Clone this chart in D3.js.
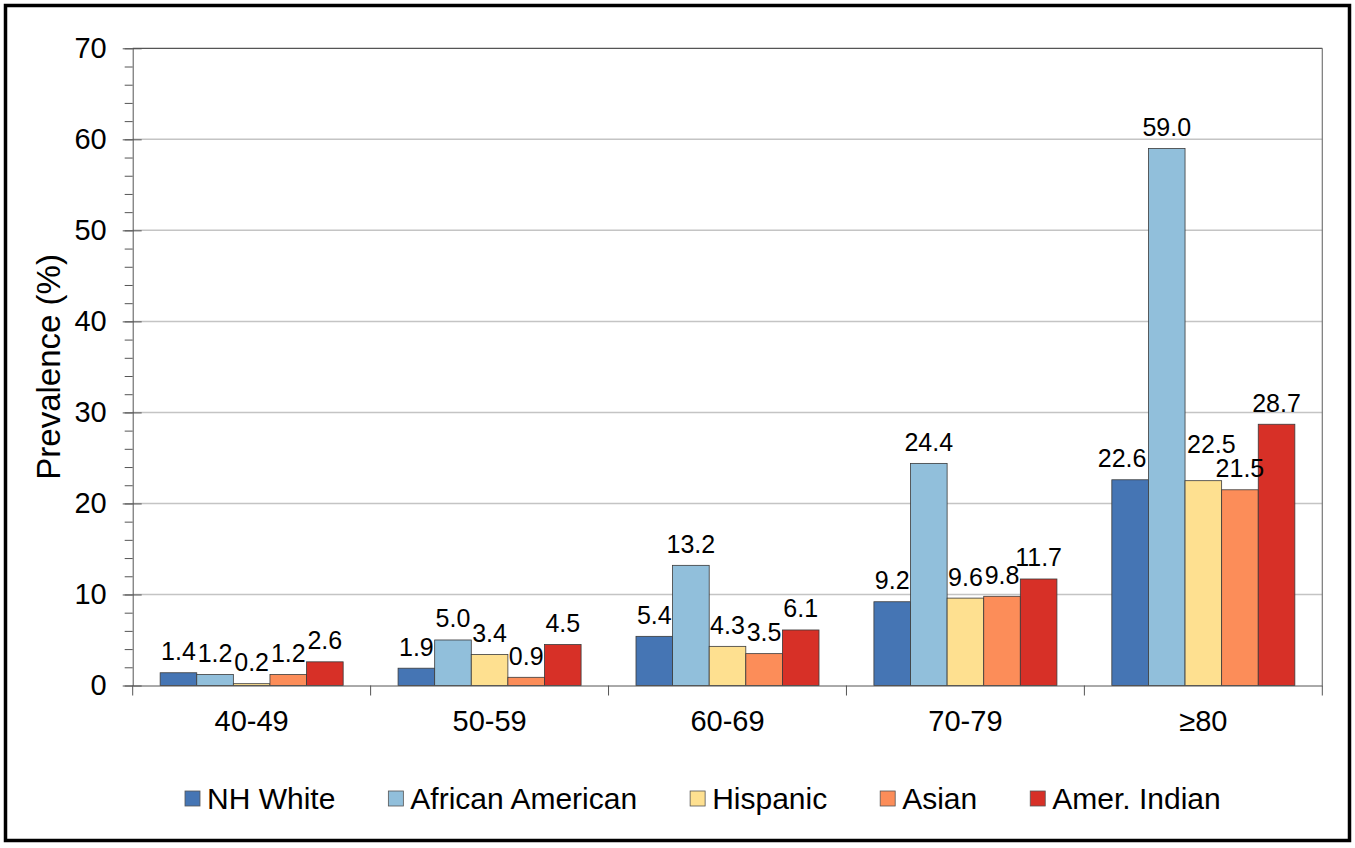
<!DOCTYPE html>
<html>
<head>
<meta charset="utf-8">
<script src="https://cdn.jsdelivr.net/npm/d3@7"></script>
<style>
  body { margin: 0; background: #fff; }
  text { font-family: "Liberation Sans", Arial, sans-serif; fill: #000; }
</style>
</head>
<body>
<svg id="chart" width="1355" height="848"></svg>
<script>
const ageGroups = ["40-49", "50-59", "60-69", "70-79", "≥80"];
const groups = ["NH White", "African American", "Hispanic", "Asian", "Amer. Indian"];
const colors = ["#4575b4", "#91bfdb", "#fee090", "#fc8d59", "#d73027"];
const nhWhite = [1.4, 1.9, 5.4, 9.2, 22.6];
const africanAmerican = [1.2, 5.0, 13.2, 24.4, 59.0];
const hispanic = [0.2, 3.4, 4.3, 9.6, 22.5];
const asian = [1.2, 0.9, 3.5, 9.8, 21.5];
const amerIndian = [2.6, 4.5, 6.1, 11.7, 28.7];
const yTicks = [0, 10, 20, 30, 40, 50, 60, 70];

const series = [nhWhite, africanAmerican, hispanic, asian, amerIndian];
// flatten into one row per bar
const bars = [];
ageGroups.forEach((age, i) => {
  groups.forEach((g, j) => bars.push({age: age, group: g, value: series[j][i]}));
});

// a couple of labels were moved by hand in the original so they don't collide
const nudge = {"≥80|NH White": [-8, 0], "≥80|Hispanic": [8, -15]};

const svg = d3.select("#chart");
const plotL = 132.7, plotR = 1322.3, plotT = 48.3, plotB = 685.5;

const y = d3.scaleLinear().domain([0, 70]).range([plotB, plotT]);
const x0 = d3.scaleBand().domain(ageGroups).range([plotL, plotR]);
const x1 = d3.scaleBand().domain(groups).range([0, x0.bandwidth()])
  .paddingInner(0).paddingOuter(0.75);
const color = d3.scaleOrdinal().domain(groups).range(colors);

// outer frame
svg.append("rect")
  .attr("x", 5.5).attr("y", 5.5)
  .attr("width", 1344).attr("height", 835)
  .attr("fill", "none").attr("stroke", "#000").attr("stroke-width", 3.5);

// gridlines
svg.append("g")
  .selectAll("line")
  .data(yTicks.filter(d => d > 0 && d < 70)).enter()
  .append("line")
  .attr("x1", plotL).attr("x2", plotR)
  .attr("y1", d => y(d)).attr("y2", d => y(d))
  .attr("stroke", "#c4c4c4").attr("stroke-width", 1.5);

// plot border top and right
svg.append("line")
  .attr("x1", plotL).attr("x2", plotR).attr("y1", y(70)).attr("y2", y(70))
  .attr("stroke", "#555").attr("stroke-width", 1.2);
svg.append("line")
  .attr("x1", plotR).attr("x2", plotR).attr("y1", y(70)).attr("y2", y(0))
  .attr("stroke", "#777").attr("stroke-width", 1.2);

// bars
svg.append("g")
  .selectAll("rect")
  .data(bars).enter()
  .append("rect")
  .attr("x", d => x0(d.age) + x1(d.group))
  .attr("y", d => y(d.value))
  .attr("width", x1.bandwidth())
  .attr("height", d => y(0) - y(d.value))
  .attr("fill", d => color(d.group))
  .attr("stroke", "#3a3a3a")
  .attr("stroke-width", 0.8);

// value labels
svg.append("g")
  .selectAll("text")
  .data(bars).enter()
  .append("text")
  .attr("x", d => x0(d.age) + x1(d.group) + x1.bandwidth() / 2 + (nudge[d.age + "|" + d.group] || [0, 0])[0])
  .attr("y", d => y(d.value) - 12.5 + (nudge[d.age + "|" + d.group] || [0, 0])[1])
  .attr("text-anchor", "middle")
  .style("font-size", "25px")
  .text(d => d.value.toFixed(1));

// y axis: minor ticks
svg.append("g")
  .attr("transform", `translate(${plotL},0)`)
  .call(d3.axisLeft(y).tickValues(d3.range(0, 71, 2)).tickSize(8).tickFormat(""))
  .call(g => g.select(".domain").remove())
  .selectAll("line").attr("stroke", "#555");

// y axis: major ticks + labels
const yAxis = svg.append("g")
  .attr("transform", `translate(${plotL},0)`)
  .call(d3.axisLeft(y).tickValues(yTicks).tickSize(10).tickPadding(16).tickSizeOuter(0));
yAxis.select(".domain").attr("stroke", "#555");
yAxis.selectAll(".tick line").attr("stroke", "#555").attr("x1", -10).attr("x2", 9);
yAxis.selectAll(".tick text")
  .style("font-size", "29px")
  .style("font-family", '"Liberation Sans", Arial, sans-serif')
  .attr("fill", "#000");

// x axis
const xAxis = svg.append("g")
  .attr("transform", `translate(0,${plotB})`)
  .call(d3.axisBottom(x0).tickSize(0).tickPadding(25));
xAxis.select(".domain").attr("stroke", "#555");
xAxis.selectAll(".tick text")
  .style("font-size", "29px")
  .style("font-family", '"Liberation Sans", Arial, sans-serif')
  .attr("fill", "#000");

// x ticks between categories
svg.append("g")
  .selectAll("line")
  .data(ageGroups.map(d => x0(d)).concat([plotR])).enter()
  .append("line")
  .attr("x1", d => d).attr("x2", d => d)
  .attr("y1", plotB).attr("y2", plotB + 10)
  .attr("stroke", "#555");

// y title
svg.append("text")
  .attr("transform", `translate(60,${(plotT + plotB) / 2}) rotate(-90)`)
  .attr("text-anchor", "middle")
  .style("font-size", "33px")
  .text("Prevalence (%)");

// legend
const legend = svg.append("g").attr("transform", "translate(185,0)");
let lx = 0;
groups.forEach(g => {
  const item = legend.append("g").attr("transform", `translate(${lx},0)`);
  item.append("rect")
    .attr("x", 0).attr("y", 791).attr("width", 15).attr("height", 15)
    .attr("fill", color(g)).attr("stroke", "#555").attr("stroke-width", 0.8);
  const t = item.append("text")
    .attr("x", 22).attr("y", 809)
    .style("font-size", "30px")
    .text(g);
  lx += 22 + t.node().getComputedTextLength() + 53;
});
</script>
</body>
</html>
